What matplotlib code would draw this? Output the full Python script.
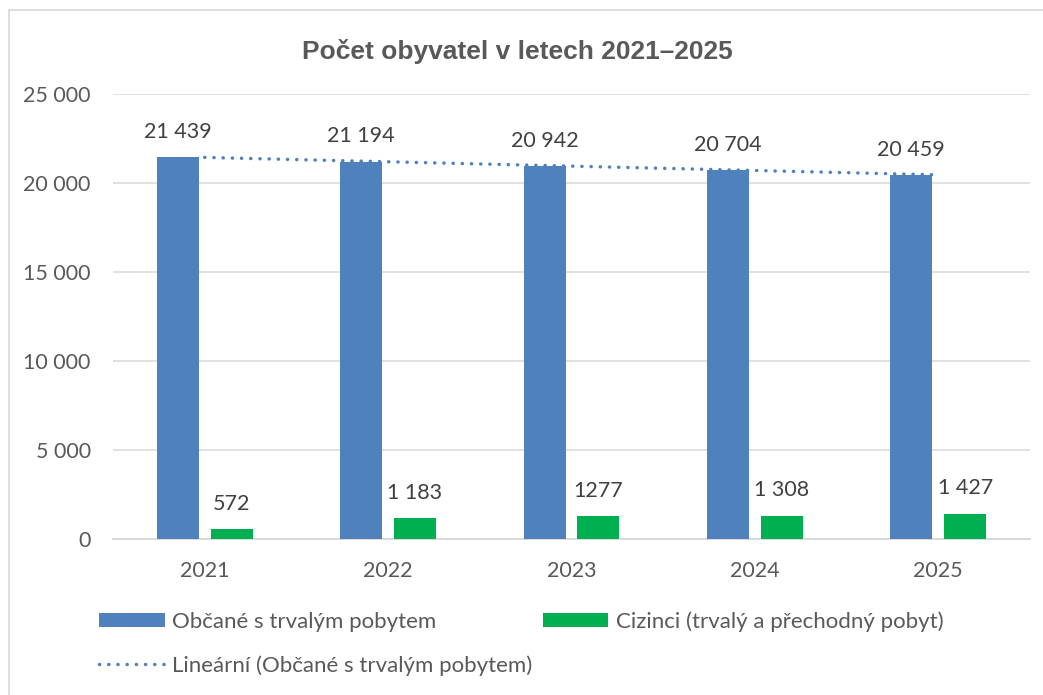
import matplotlib
matplotlib.use("Agg")
import matplotlib.pyplot as plt
import numpy as np
from matplotlib.patches import Patch
from matplotlib.lines import Line2D

years = ["2021", "2022", "2023", "2024", "2025"]
obcane = [21439, 21194, 20942, 20704, 20459]
cizinci = [572, 1183, 1277, 1308, 1427]
obcane_labels = ["21 439", "21 194", "20 942", "20 704", "20 459"]
cizinci_labels = ["572", "1 183", "1277", "1 308", "1 427"]
yticks = [0, 5000, 10000, 15000, 20000, 25000]
ytick_labels = ["0", "5 000", "10 000", "15 000", "20 000", "25 000"]
title = "Počet obyvatel v letech 2021–2025"
name_obcane = "Občané s trvalým pobytem"
name_cizinci = "Cizinci (trvalý a přechodný pobyt)"
name_trend = "Lineární (Občané s trvalým pobytem)"

BLUE = "#4F81BD"
GREEN = "#00B050"
GRID = "#D9D9D9"
TXT = "#595959"
LBL = "#404040"
FONT = "Lato"
FS = 15.5
DOT = (0, (0.05, 2.6))

W, H = 1043, 695
fig = plt.figure(figsize=(W / 100, H / 100), dpi=100)
ax = fig.add_axes([113 / W, 1 - 539 / H, (1030 - 113) / W, (539 - 94) / H])

x = np.arange(len(years))
bw = 0.229
off = 0.147
b1 = ax.bar(x - off, obcane, bw, color=BLUE, zorder=3)
b2 = ax.bar(x + off, cizinci, bw, color=GREEN, zorder=3)

# linear trend
coef = np.polyfit(x, obcane, 1)
ax.plot(x, np.polyval(coef, x), color=BLUE, linestyle=DOT, linewidth=2.5,
        dash_capstyle="round", zorder=4)

ax.bar_label(b1, labels=obcane_labels, padding=11, color=LBL, fontsize=FS, family=FONT)
ax.bar_label(b2, labels=cizinci_labels, padding=11, color=LBL, fontsize=FS, family=FONT)

ax.set_xlim(-0.5, len(years) - 0.5)
ax.set_ylim(0, 25000)
ax.set_yticks(yticks)
ax.set_yticklabels(ytick_labels)
ax.set_xticks(x)
ax.set_xticklabels(years)
for lab in ax.get_xticklabels() + ax.get_yticklabels():
    lab.set_fontfamily(FONT)
    lab.set_fontsize(FS)
    lab.set_color(TXT)
ax.tick_params(axis="both", length=0)
ax.tick_params(axis="y", pad=16)
ax.tick_params(axis="x", pad=16)
ax.grid(axis="y", color=GRID, linewidth=1.1, zorder=0)
for s in ["top", "right", "left"]:
    ax.spines[s].set_visible(False)
ax.spines["bottom"].set_color(GRID)
ax.spines["bottom"].set_linewidth(1.4)

fig.text(517 / W, 1 - 52 / H, title, ha="center", va="center", fontsize=19,
         fontweight="bold", color=TXT, family="Liberation Sans")

handles = [Patch(facecolor=BLUE, edgecolor="none"),
           Line2D([0], [0], color=BLUE, linestyle=DOT, linewidth=2.5,
                  dash_capstyle="round"),
           Patch(facecolor=GREEN, edgecolor="none")]
labels = [name_obcane, name_trend, name_cizinci]
leg = fig.legend(handles, labels, ncol=2, loc="upper left",
                 bbox_to_anchor=(99 / W, 1 - 611 / H), frameon=False,
                 prop={"family": FONT, "size": 16}, handlelength=2.95,
                 handleheight=0.62, handletextpad=0.35, columnspacing=0.45,
                 labelspacing=1.05, borderpad=0, borderaxespad=0)
for t in leg.get_texts():
    t.set_color(TXT)

# outer chart border
fig.add_artist(Line2D([9 / W, 9 / W], [0, 1 - 10 / H], color=GRID, linewidth=1.2))
fig.add_artist(Line2D([9 / W, 1], [1 - 10 / H, 1 - 10 / H], color=GRID, linewidth=1.2))

fig.savefig("out.png", dpi=100, facecolor="white")
